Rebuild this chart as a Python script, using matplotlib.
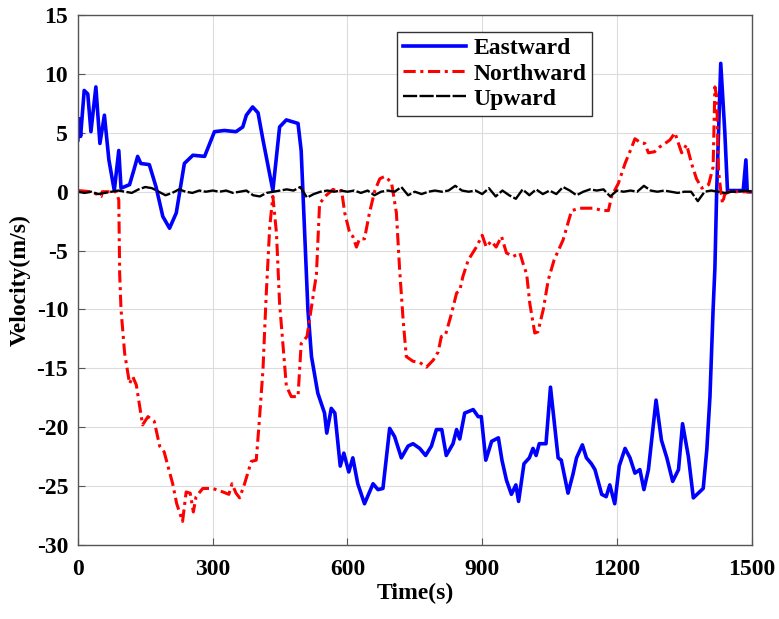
import matplotlib.pyplot as plt
import numpy as np

plt.rcParams['font.family'] = 'Liberation Serif'
plt.rcParams['font.weight'] = 'bold'
plt.rcParams['axes.unicode_minus'] = False

# Eastward velocity
east_t = [0, 3, 6, 14, 22, 29, 40, 49, 59, 69, 81, 91, 96, 115, 125, 133, 140, 159, 174, 189,
          204, 219, 237, 256, 282, 304, 326, 352, 367, 375, 389, 401, 412, 434, 449, 464, 490, 497,
          508, 512, 520, 534, 549, 554, 564, 572, 584, 592, 603, 612, 623, 638, 648, 657, 668, 679,
          694, 705, 720, 735, 746, 761, 774, 787, 798, 810, 820, 835, 843, 850, 861, 880, 891, 898,
          908, 921, 936, 944, 954, 965, 975, 981, 993, 1005, 1013, 1020, 1027, 1042, 1052, 1069,
          1076, 1091, 1102, 1110, 1123, 1132, 1143, 1151, 1166, 1176, 1184, 1195, 1205, 1218, 1229,
          1240, 1251, 1260, 1270, 1287, 1299, 1311, 1324, 1337, 1346, 1359, 1370, 1381, 1392, 1400,
          1407, 1414, 1418, 1422, 1431, 1440, 1446, 1481, 1487, 1490, 1500]
east_v = [4.4, 6.2, 4.7, 8.6, 8.3, 5.1, 8.9, 4.1, 6.5, 2.7, 0.1, 3.5, 0.3, 0.6, 1.9, 3.0, 2.4, 2.3, 0.4, -2.1,
          -3.1, -1.8, 2.4, 3.1, 3.0, 5.1, 5.2, 5.1, 5.5, 6.5, 7.2, 6.7, 4.4, 0.1, 5.5, 6.1, 5.8, 3.5,
          -6.5, -10.0, -14.0, -17.1, -18.8, -20.5, -18.4, -18.8, -23.3, -22.2, -23.8, -22.6, -24.8, -26.5, -25.6, -24.8, -25.3, -25.2,
          -20.1, -20.8, -22.6, -21.6, -21.4, -21.8, -22.4, -21.6, -20.2, -20.2, -22.4, -21.4, -20.2, -21.0, -18.8, -18.5, -19.1, -19.1,
          -22.8, -21.2, -20.9, -22.8, -24.5, -25.7, -24.9, -26.3, -23.1, -22.6, -21.8, -22.4, -21.4, -21.4, -16.6, -22.6,
          -22.8, -25.6, -24.0, -22.6, -21.5, -22.6, -23.1, -23.6, -25.7, -25.9, -24.9, -26.5, -23.3, -21.8, -22.6,
          -23.9, -23.6, -25.3, -23.6, -17.7, -21.1, -22.6, -24.6, -23.6, -19.7, -22.5, -26.0, -25.6, -25.2, -21.9,
          -17.4, -10.0, -6.5, 0.1, 10.9, 5.1, 0.1, 0.1, 2.7, 0.0, 0.0]

# Northward velocity
north_t = [0, 30, 52, 54, 85, 91, 93, 96, 104, 115, 122, 130, 144, 156, 170, 182, 192, 211, 220,
           233, 241, 250, 257, 263, 278, 300, 323, 336, 343, 352, 360, 371, 386, 397, 404, 412, 419,
           427, 434, 442, 449, 464, 475, 490, 497, 510, 520, 531, 538, 553, 568, 579, 587, 594, 605,
           612, 620, 627, 638, 649, 661, 672, 683, 698, 709, 716, 724, 731, 746, 761, 776, 791, 802,
           809, 818, 832, 843, 850, 857, 869, 887, 900, 909, 920, 931, 943, 954, 969, 984, 991, 999,
           1006, 1017, 1024, 1036, 1047, 1060, 1080, 1099, 1118, 1147, 1169, 1181, 1188, 1203, 1218,
           1233, 1240, 1251, 1262, 1270, 1284, 1295, 1307, 1318, 1329, 1337, 1344, 1355, 1366, 1377,
           1389, 1404, 1414, 1418, 1422, 1426, 1431, 1435, 1440, 1450, 1500]
north_v = [0.1, 0.0, -0.4, 0.0, 0.0, -0.7, -7.0, -10.0, -13.7, -16.3, -15.7, -16.4, -19.8, -19.1, -19.5, -21.6, -22.1, -24.8, -26.5,
           -28.0, -25.5, -25.6, -27.2, -25.9, -25.2, -25.2, -25.5, -25.7, -24.8, -25.6, -26.0, -24.8, -22.9, -22.8, -19.4, -15.1, -8.9,
           -3.0, -0.4, -3.5, -9.5, -16.5, -17.4, -17.4, -12.9, -12.3, -9.8, -7.0, -1.0, -0.3, 0.2, 0.0, 0.1, -1.8, -3.5,
           -3.8, -4.7, -4.0, -4.0, -1.8, 0.1, 1.1, 1.3, 0.8, -1.8, -6.5, -10.9, -14.0, -14.4, -14.5, -14.9, -14.3, -13.6,
           -12.3, -12.2, -10.3, -8.6, -8.4, -7.2, -5.8, -4.7, -3.7, -4.7, -4.2, -4.7, -3.8, -5.2, -5.5, -5.2, -6.1, -7.0,
           -9.5, -12.0, -11.9, -10.0, -7.5, -5.8, -4.1, -1.6, -1.4, -1.4, -1.6, -1.6, -0.4, 0.7, 2.4,
           3.8, 4.5, 4.2, 4.1, 3.3, 3.4, 3.8, 4.1, 4.4, 5.0, 4.1, 3.3, 4.0, 2.4, 1.1,
           0.3, 0.6, 2.1, 8.9, 8.1, 1.8, 0.1, -1.0, -0.2, 0.0, 0.0]

# Upward velocity, every 15 s
up_t = list(range(0, 1501, 15))
up_v = [0.0, -0.1, 0.0, -0.2, -0.1, 0.0, 0.1, 0.0, -0.1, 0.2, 0.4, 0.3, 0.0, -0.3, -0.1, 0.2, 0.0,
        -0.1, 0.1, 0.0, 0.1, 0.0, 0.1, -0.1, 0.0, 0.1, -0.3, -0.4, -0.1, 0.0, 0.1, 0.2, 0.1, 0.4,
        -0.5, -0.2, 0.0, 0.1, 0.0, 0.1, 0.0, 0.1, -0.1, 0.1, -0.3, 0.0, 0.1, 0.0, 0.4, -0.3, 0.0,
        -0.2, 0.0, 0.1, 0.0, 0.1, 0.5, 0.1, 0.0, 0.1, -0.2, 0.3, -0.4, 0.1, -0.3, -0.6, 0.2, -0.3,
        0.2, -0.2, 0.1, -0.2, 0.4, 0.1, -0.3, 0.0, 0.2, 0.1, 0.2, -0.4, 0.1, 0.0, 0.1, 0.0, 0.5,
        0.1, 0.0, 0.1, 0.0, -0.1, 0.0, 0.0, -0.8, 0.0, 0.1, 0.0, -0.1, 0.0, 0.0, 0.1, 0.0]

x_ticks = [0, 300, 600, 900, 1200, 1500]
y_ticks = [-30, -25, -20, -15, -10, -5, 0, 5, 10, 15]

fig = plt.figure(figsize=(7.79, 6.19), dpi=100)
ax = fig.add_axes([0.100, 0.1196, 0.865, 0.856])

ax.plot(east_t, east_v, color='#0000ff', lw=2.6, label='Eastward')
ax.plot(north_t, north_v, color='#ff0000', lw=2.2, linestyle=(0, (4, 1.5, 1, 1.5)), label='Northward')
ax.plot(up_t, up_v, color='black', lw=1.7, linestyle=(0, (6, 1)), label='Upward')

ax.set_xlim(0, 1500)
ax.set_ylim(-30, 15)
ax.set_xticks(x_ticks)
ax.set_yticks(y_ticks)
ax.grid(True, color='#dcdcdc', lw=0.8)
ax.tick_params(direction='in', labelsize=17, length=5, color='#555555')
ax.tick_params(axis='x', pad=10)
ax.tick_params(axis='y', pad=7)
for s in ax.spines.values():
    s.set_color('#555555')
    s.set_linewidth(1.0)

ax.set_xlabel('Time(s)', fontsize=17, fontweight='bold', labelpad=2)
ax.set_ylabel('Velocity(m/s)', fontsize=17, fontweight='bold', labelpad=4)

leg = ax.legend(loc='upper left', bbox_to_anchor=(0.473, 0.968), fontsize=17, fancybox=False,
                edgecolor='#333333', framealpha=1, borderpad=0.25, labelspacing=0.15,
                handlelength=2.7, handletextpad=0.3, borderaxespad=0)
leg.get_frame().set_linewidth(1.0)

fig.savefig('out.png', dpi=100)
